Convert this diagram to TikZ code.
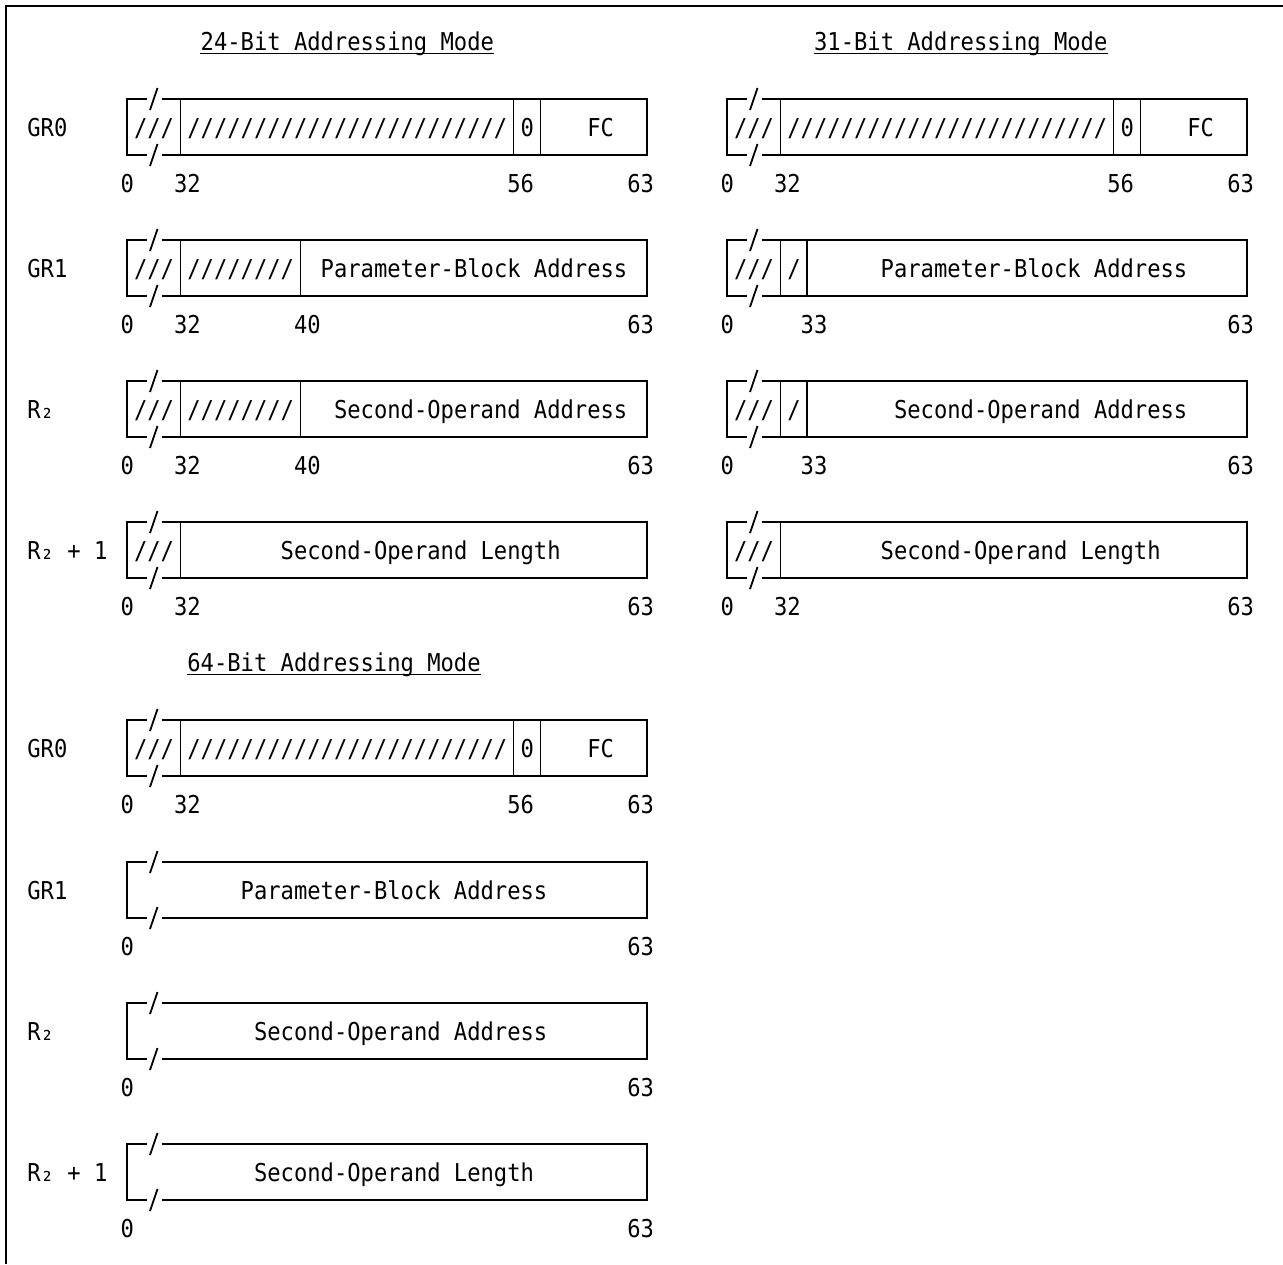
\documentclass[tikz,border=0pt]{standalone}
\usepackage{fontspec}
\usepackage{tikz}
\newfontfamily\ibm[FakeStretch=0.9]{DejaVu Sans Mono}
\newcommand{\ibmsize}{\ibm\fontsize{12.3}{14}\selectfont}
\newcommand{\resv}{///}
\newcommand{\resvone}{/}
\newcommand{\resvmid}{////////}
\newcommand{\resvlong}{////////////////////////}
\newcommand{\pba}{Parameter-Block Address}
\newcommand{\soa}{Second-Operand Address}
\newcommand{\sol}{Second-Operand Length}
% register frame: name, left x, top y, dividers, field texts, bit numbers
\newcommand{\regrow}[6]{%
  \begin{scope}[shift={(#2,#3)}]
    \draw[reg] (20,0) -- (0,0) -- (0,56) -- (20,56);
    \draw[reg] (34.5,0) -- (520,0) -- (520,56) -- (34.5,56);
    \draw[brk] (23,11) -- (30.5,-11);
    \draw[brk] (23,67) -- (30.5,45);
    \foreach \dv in {#4} \draw[reg] (\dv*13.333,0) -- (\dv*13.333,56);
    \foreach \cl/\txt in {#5} \node[cell] (#1-t\cl) at (\cl*13.333-6.667,37) {\txt};
    \foreach \cl/\txt in {#6} \node[cell] (#1-n\cl) at (\cl*13.333-6.667,93) {\txt};
  \end{scope}}

\begin{document}
\begin{tikzpicture}[
  x=0.5pt,y=-0.5pt,
  reg/.style={line width=0.8pt},
  brk/.style={line width=0.9pt},
  frame/.style={line width=1pt},
  cell/.style={anchor=base west,inner sep=0pt,font=\ibmsize},
  title/.style={cell},
  uline/.style={line width=0.7pt}
]
\useasboundingbox (0,0) rectangle (1283,1264);
\draw[frame] (1283,6) -- (6,6) -- (6,1264);

% 24-bit addressing mode
\node[title] (t24) at (200.3,50) {24-Bit Addressing Mode};
\draw[uline] ([yshift=-1.8pt]t24.base west) -- ([yshift=-1.8pt]t24.base east);
\node[cell] (lab-a0) at (27,136) {GR0};
\node[cell] (lab-a1) at (27,277) {GR1};
\node[cell] (lab-a2) at (27,418) {R₂};
\node[cell] (lab-a3) at (27,559) {R₂ + 1};
\regrow{a0}{127}{99}{4,29,31}{1/\resv,5/\resvlong,30/0,35/FC}{0/0,4/32,29/56,38/63}
\regrow{a1}{127}{240}{4,13}{1/\resv,5/\resvmid,15/\pba}{0/0,4/32,13/40,38/63}
\regrow{a2}{127}{381}{4,13}{1/\resv,5/\resvmid,16/\soa}{0/0,4/32,13/40,38/63}
\regrow{a3}{127}{522}{4}{1/\resv,12/\sol}{0/0,4/32,38/63}

% 31-bit addressing mode
\node[title] (t31) at (813.7,50) {31-Bit Addressing Mode};
\draw[uline] ([yshift=-1.8pt]t31.base west) -- ([yshift=-1.8pt]t31.base east);
\regrow{b0}{727}{99}{4,29,31}{1/\resv,5/\resvlong,30/0,35/FC}{0/0,4/32,29/56,38/63}
\regrow{b1}{727}{240}{4,6}{1/\resv,5/\resvone,12/\pba}{0/0,6/33,38/63}
\regrow{b2}{727}{381}{4,6}{1/\resv,5/\resvone,13/\soa}{0/0,6/33,38/63}
\regrow{b3}{727}{522}{4}{1/\resv,12/\sol}{0/0,4/32,38/63}

% 64-bit addressing mode
\node[title] (t64) at (187,671) {64-Bit Addressing Mode};
\draw[uline] ([yshift=-1.8pt]t64.base west) -- ([yshift=-1.8pt]t64.base east);
\node[cell] (lab-c0) at (27,757) {GR0};
\node[cell] (lab-c1) at (27,899) {GR1};
\node[cell] (lab-c2) at (27,1040) {R₂};
\node[cell] (lab-c3) at (27,1181) {R₂ + 1};
\regrow{c0}{127}{720}{4,29,31}{1/\resv,5/\resvlong,30/0,35/FC}{0/0,4/32,29/56,38/63}
\regrow{c1}{127}{862}{0}{9/\pba}{0/0,38/63}
\regrow{c2}{127}{1003}{0}{10/\soa}{0/0,38/63}
\regrow{c3}{127}{1144}{0}{10/\sol}{0/0,38/63}
\end{tikzpicture}
\end{document}
